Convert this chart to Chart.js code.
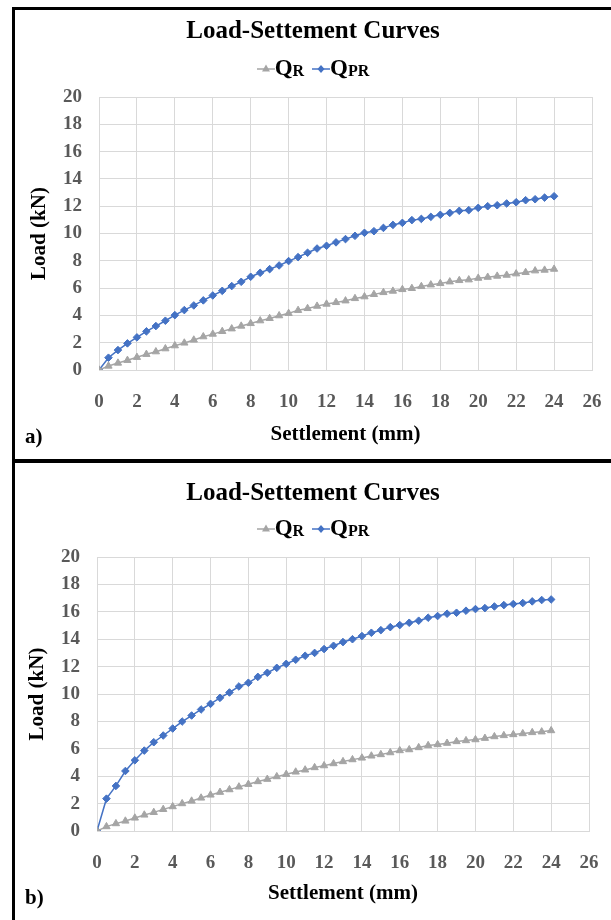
<!DOCTYPE html>
<html><head><meta charset="utf-8">
<script src="https://cdn.jsdelivr.net/npm/chart.js@4/dist/chart.umd.min.js"></script>
<style>
body{margin:0;width:611px;height:920px;position:relative;background:#fff;overflow:hidden;font-family:"Liberation Serif","Times New Roman",serif;}
canvas{position:absolute;left:0;}
.frame{position:absolute;left:12px;top:7px;width:640px;height:960px;border-left:3px solid #000;border-top:3px solid #000;}
.divider{position:absolute;left:12px;top:459px;width:640px;height:4px;background:#000;}
.title{position:absolute;left:15px;width:596px;text-align:center;font-weight:bold;font-size:25px;line-height:28px;color:#000;}
.legend{position:absolute;left:15px;width:596px;display:flex;justify-content:center;align-items:center;font-weight:bold;color:#000;height:28px;}
.legend .item{display:flex;align-items:center;margin:0 4px;}
.legend .q{font-size:23px;}
.legend .s{font-size:16px;position:relative;top:3px;}
.tag{position:absolute;left:25px;font-weight:bold;font-size:21px;line-height:24px;color:#000;}
</style>
</head><body>
<canvas id="ca" width="611" height="460" style="top:0"></canvas>
<canvas id="cb" width="611" height="460" style="top:460px"></canvas>
<div class="frame"></div>
<div class="divider"></div>

<div class="title" style="top:16px">Load-Settement Curves</div>
<div class="legend" style="top:54px">
  <span class="item"><svg width="18" height="12"><line x1="0" y1="7" x2="18" y2="7" stroke="#A5A5A5" stroke-width="1.5"/><polygon points="9,2.5 13,9.5 5,9.5" fill="#A5A5A5"/></svg><span class="q">Q</span><span class="s">R</span></span>
  <span class="item"><svg width="18" height="12"><line x1="0" y1="7" x2="18" y2="7" stroke="#4472C4" stroke-width="1.5"/><polygon points="9,3 12.5,7 9,11 5.5,7" fill="#4472C4"/></svg><span class="q">Q</span><span class="s">PR</span></span>
</div>
<div class="tag" style="top:424px">a)</div>

<div class="title" style="top:478px">Load-Settement Curves</div>
<div class="legend" style="top:514px">
  <span class="item"><svg width="18" height="12"><line x1="0" y1="7" x2="18" y2="7" stroke="#A5A5A5" stroke-width="1.5"/><polygon points="9,2.5 13,9.5 5,9.5" fill="#A5A5A5"/></svg><span class="q">Q</span><span class="s">R</span></span>
  <span class="item"><svg width="18" height="12"><line x1="0" y1="7" x2="18" y2="7" stroke="#4472C4" stroke-width="1.5"/><polygon points="9,3 12.5,7 9,11 5.5,7" fill="#4472C4"/></svg><span class="q">Q</span><span class="s">PR</span></span>
</div>
<div class="tag" style="top:885px">b)</div>

<script>
// Settlement (mm)
const settlement = [0,0.5,1,1.5,2,2.5,3,3.5,4,4.5,5,5.5,6,6.5,7,7.5,8,8.5,9,9.5,10,10.5,11,11.5,12,12.5,13,13.5,14,14.5,15,15.5,16,16.5,17,17.5,18,18.5,19,19.5,20,20.5,21,21.5,22,22.5,23,23.5,24];

// Panel a) Load (kN)
const qrA  = [0,0.29,0.51,0.71,0.93,1.15,1.34,1.56,1.78,1.98,2.2,2.44,2.63,2.83,3.02,3.22,3.41,3.61,3.78,3.98,4.15,4.37,4.51,4.68,4.83,4.95,5.07,5.24,5.37,5.54,5.68,5.78,5.9,5.98,6.12,6.24,6.34,6.46,6.56,6.61,6.73,6.8,6.88,6.95,7.05,7.15,7.27,7.32,7.39];
const qprA = [0,0.9,1.46,1.95,2.39,2.83,3.22,3.61,4.02,4.39,4.73,5.1,5.46,5.8,6.15,6.46,6.83,7.12,7.39,7.66,7.98,8.27,8.59,8.9,9.1,9.35,9.59,9.83,10.05,10.17,10.41,10.63,10.78,10.98,11.07,11.22,11.37,11.51,11.66,11.71,11.88,12.0,12.07,12.2,12.29,12.44,12.51,12.63,12.73];

// Panel b) Load (kN)
const qrB  = [0,0.32,0.54,0.73,0.95,1.17,1.36,1.58,1.78,2.0,2.19,2.41,2.63,2.83,3.02,3.22,3.41,3.61,3.78,3.97,4.14,4.31,4.46,4.63,4.77,4.92,5.07,5.21,5.33,5.48,5.58,5.72,5.87,5.94,6.09,6.24,6.31,6.41,6.53,6.6,6.67,6.77,6.89,6.97,7.04,7.11,7.19,7.24,7.33];
const qprB = [0,2.36,3.29,4.38,5.16,5.87,6.48,6.97,7.48,7.99,8.43,8.87,9.28,9.72,10.11,10.55,10.82,11.25,11.55,11.91,12.2,12.5,12.79,13.0,13.28,13.52,13.79,14.0,14.23,14.47,14.66,14.88,15.03,15.2,15.35,15.57,15.69,15.86,15.93,16.08,16.2,16.27,16.39,16.49,16.57,16.64,16.76,16.86,16.9];

const seriesNames = ['QR','QPR'];
const xTitle = 'Settlement (mm)';
const yTitle = 'Load (kN)';

const FONT = 'Liberation Serif';
const GRAY = '#A5A5A5', BLUE = '#4472C4', GRID = '#D9D9D9', TICK = '#595959';

function pts(ys){ return settlement.map((x,i)=>({x:x,y:ys[i]})); }

function makeChart(id, qr, qpr, L, R, T, B, yTitlePad, xTitlePad){
  const XH = 77;
  return new Chart(document.getElementById(id), {
    type:'line',
    data:{datasets:[
      {label:seriesNames[0], data:pts(qr), borderColor:GRAY, backgroundColor:GRAY, borderWidth:1.5,
       pointStyle:'triangle', pointRadius:4.2, pointBorderWidth:1, pointBackgroundColor:GRAY, pointBorderColor:GRAY, tension:0},
      {label:seriesNames[1], data:pts(qpr), borderColor:BLUE, backgroundColor:BLUE, borderWidth:1.5,
       pointStyle:'rectRot', pointRadius:3.8, pointBorderWidth:1, pointBackgroundColor:BLUE, pointBorderColor:BLUE, tension:0}
    ]},
    options:{
      responsive:false, animation:false, devicePixelRatio:1,
      layout:{padding:{left:0, right:611-R, top:T, bottom:460-B-XH}},
      plugins:{legend:{display:false}, title:{display:false}, tooltip:{enabled:false}},
      scales:{
        x:{type:'linear', min:0, max:26,
           afterFit:(s)=>{s.height = XH;},
           ticks:{stepSize:2, padding:3, color:TICK, font:{family:FONT, size:19, weight:'bold'}, maxRotation:0},
           grid:{color:GRID, lineWidth:1, drawTicks:true, tickLength:18, tickColor:'rgba(0,0,0,0)'},
           border:{color:GRID},
           title:{display:true, text:xTitle, color:'#000', font:{family:FONT, size:21, weight:'bold'}, padding:{top:0,bottom:xTitlePad}}
        },
        y:{type:'linear', min:0, max:20,
           afterFit:(s)=>{s.width = L;},
           ticks:{stepSize:2, padding:17, color:TICK, font:{family:FONT, size:19, weight:'bold'}},
           grid:{color:GRID, lineWidth:1, drawTicks:false},
           border:{color:GRID},
           title:{display:true, text:yTitle, color:'#000', font:{family:FONT, size:21, weight:'bold'}, padding:{top:yTitlePad,bottom:0}}
        }
      }
    }
  });
}

makeChart('ca', qrA, qprA, 99, 592, 97, 370, 27, 0);
makeChart('cb', qrB, qprB, 97, 589, 97, 371, 25, 2);
</script>
</body></html>
